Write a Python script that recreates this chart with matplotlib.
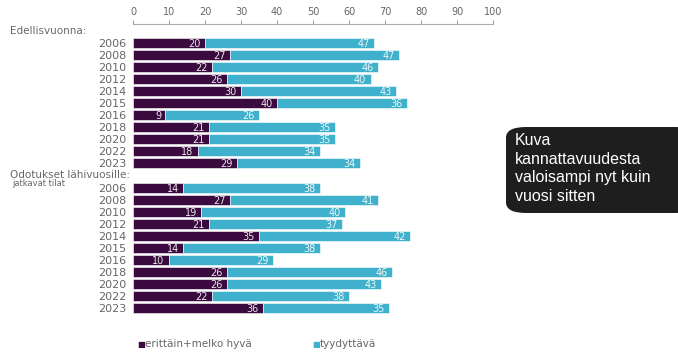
import matplotlib.pyplot as plt
from matplotlib.patches import FancyBboxPatch
import numpy as np

years = ['2006', '2008', '2010', '2012', '2014', '2015', '2016', '2018', '2020', '2022', '2023']
prev_good = [20, 27, 22, 26, 30, 40, 9, 21, 21, 18, 29]
prev_ok = [47, 47, 46, 40, 43, 36, 26, 35, 35, 34, 34]
exp_good = [14, 27, 19, 21, 35, 14, 10, 26, 26, 22, 36]
exp_ok = [38, 41, 40, 37, 42, 38, 29, 46, 43, 38, 35]
x_ticks = [0, 10, 20, 30, 40, 50, 60, 70, 80, 90, 100]

purple = '#3b0a3f'
cyan = '#3fb1cc'
gray = '#666666'

W, H = 678, 352
fig = plt.figure(figsize=(W / 100, H / 100), dpi=100)

# axes: x 0..100 spans px 133..493, top spine at px 24
ax_top, ax_bot = 24, 322
ax = fig.add_axes([133 / W, 1 - ax_bot / H, 360 / W, (ax_bot - ax_top) / H])

row_px = 12.0
gap = 25.0 / row_px
pos1 = np.arange(len(years))
pos2 = pos1 + 10 + gap
first_px = 43.0

def draw(pos, good, ok):
    good = np.array(good)
    ok = np.array(ok)
    ax.barh(pos, good, height=0.86, color=purple, edgecolor='white', linewidth=0.4)
    ax.barh(pos, ok, left=good, height=0.86, color=cyan, edgecolor='white', linewidth=0.4)
    for p, g, o in zip(pos, good, ok):
        ax.text(g - 1.2, p + 0.05, str(g), ha='right', va='center', fontsize=7, color='#e8e8e8')
        ax.text(g + o - 1.2, p + 0.05, str(o), ha='right', va='center', fontsize=7, color='#eef6f8')

draw(pos1, prev_good, prev_ok)
draw(pos2, exp_good, exp_ok)

ax.set_xlim(0, 100)
ax.set_ylim((ax_bot - first_px) / row_px, -(first_px - ax_top) / row_px)
ax.xaxis.tick_top()
ax.set_xticks(x_ticks)
ax.tick_params(axis='x', colors='#888888', labelcolor=gray, labelsize=7, length=3, width=0.6, pad=2)
ax.set_yticks(np.concatenate([pos1, pos2]))
ax.set_yticklabels(years + years, fontsize=8, color=gray)
ax.tick_params(axis='y', length=0, pad=5)
for s in ['left', 'right', 'bottom']:
    ax.spines[s].set_visible(False)
ax.spines['top'].set_color('#aaaaaa')
ax.spines['top'].set_linewidth(0.8)

fig.text(10 / W, 1 - 31 / H, 'Edellisvuonna:', fontsize=7.5, color=gray, va='center')
fig.text(10 / W, 1 - 175 / H, 'Odotukset lähivuosille:', fontsize=7.5, color=gray, va='center')
fig.text(12 / W, 1 - 183 / H, 'jatkavat tilat', fontsize=6, color=gray, va='center')

# legend
fig.text(137 / W, 1 - 344 / H, '■', fontsize=6, color=purple, va='center')
fig.text(145 / W, 1 - 344 / H, 'erittäin+melko hyvä', fontsize=7.5, color=gray, va='center')
fig.text(312 / W, 1 - 344 / H, '■', fontsize=6, color=cyan, va='center')
fig.text(320 / W, 1 - 344 / H, 'tyydyttävä', fontsize=7.5, color=gray, va='center')

# annotation box
box = FancyBboxPatch((506 / W, 1 - 213 / H), 190 / W, 86 / H,
                     boxstyle='round,pad=0,rounding_size=0.03',
                     transform=fig.transFigure, facecolor='#1e1e1e', edgecolor='none')
fig.patches.append(box)
fig.text(515 / W, 1 - 133 / H, 'Kuva\nkannattavuudesta\nvaloisampi nyt kuin\nvuosi sitten',
         fontsize=11.5, color='white', family='Liberation Sans', va='top', linespacing=1.3)

fig.savefig('out.png', dpi=100)
